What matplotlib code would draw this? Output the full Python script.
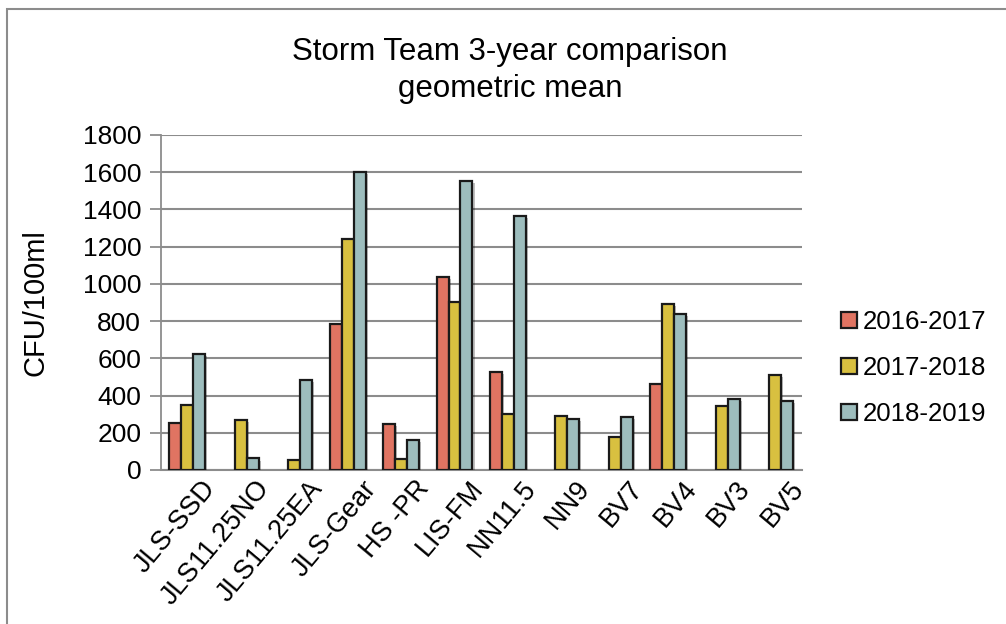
import numpy as np
import matplotlib
matplotlib.use("Agg")
import matplotlib.pyplot as plt
import matplotlib.patheffects as pe
import matplotlib.transforms as mtransforms
from matplotlib.patches import Rectangle

"""
Data Section
"""
sites = ["JLS-SSD", "JLS11.25NO", "JLS11.25EA", "JLS-Gear", "HS -PR", "LIS-FM",
         "NN11.5", "NN9", "BV7", "BV4", "BV3", "BV5"]
y2016 = [254, np.nan, np.nan, 783, 249, 1035, 525, np.nan, np.nan, 464, np.nan, np.nan]
y2017 = [349, 267, 52, 1241, 59, 901, 299, 288, 177, 890, 346, 510]
y2018 = [621, 62, 485, 1600, 163, 1555, 1367, 276, 287, 840, 380, 369]
series_names = ["2016-2017", "2017-2018", "2018-2019"]
yticks = [0, 200, 400, 600, 800, 1000, 1200, 1400, 1600, 1800]

"""
Plot Section
"""
plt.rcParams['font.family'] = ['Liberation Sans', 'DejaVu Sans']
colors = ['#E07462', '#D8C040', '#9DBDBD']
grid_col = '#8C8C8C'

fig = plt.figure(figsize=(10.06, 6.24), dpi=100)
ax = fig.add_axes([0.1597, 0.2468, 0.797 - 0.1597, 0.7837 - 0.2468])

# outer frame of the chart area
fig.patches.append(Rectangle((7 / 1006, -0.1), 1.2, 1 - 9 / 624 + 0.1, transform=fig.transFigure,
                             fill=False, edgecolor='#8C8C8C', linewidth=1.5))

x = np.arange(len(sites))
w = 0.224
shadow = [pe.withSimplePatchShadow(offset=(1.5, -1.5), shadow_rgbFace='k', alpha=0.25)]
for k, vals in enumerate([y2016, y2017, y2018]):
    vals = np.array(vals, dtype=float)
    ok = ~np.isnan(vals)
    ax.bar(x[ok] + (k - 1) * w, vals[ok], width=w, color=colors[k], edgecolor='#1a1a1a',
           linewidth=1.6, label=series_names[k], zorder=3, path_effects=shadow)

ax.set_xlim(-0.5, len(sites) - 0.5)
ax.set_ylim(0, 1800)
ax.set_yticks(yticks)
ax.tick_params(axis='y', labelsize=19, length=8, width=1.3, color=grid_col, pad=6)
ax.tick_params(axis='x', length=0, pad=4)
ax.set_xticks(x)
ax.set_xticklabels(sites, rotation=50, ha='right', rotation_mode='anchor', fontsize=19.5)
shift = mtransforms.ScaledTranslation(14 / 100, 0, fig.dpi_scale_trans)
for lab in ax.get_xticklabels():
    lab.set_transform(lab.get_transform() + shift)
ax.yaxis.grid(True, color=grid_col, linewidth=1.5, zorder=0)
for s in ['top', 'right']:
    ax.spines[s].set_visible(False)
ax.spines['left'].set_color(grid_col)
ax.spines['left'].set_linewidth(1.3)
ax.spines['bottom'].set_color(grid_col)
ax.spines['bottom'].set_linewidth(1.5)

ax.set_ylabel('CFU/100ml', fontsize=21, labelpad=24)
fig.text(0.507, 0.941, 'Storm Team 3-year comparison\ngeometric mean', ha='center', va='top',
         fontsize=22.5, linespacing=1.3)

leg = ax.legend(loc='center left', bbox_to_anchor=(1.025, 0.304), frameon=False, fontsize=18.6,
                handlelength=0.6, handleheight=0.6, handletextpad=0.25, labelspacing=0.86)
for h in leg.legend_handles:
    h.set_path_effects([])
    h.set_linewidth(1.6)

fig.savefig('out.png', dpi=100)
